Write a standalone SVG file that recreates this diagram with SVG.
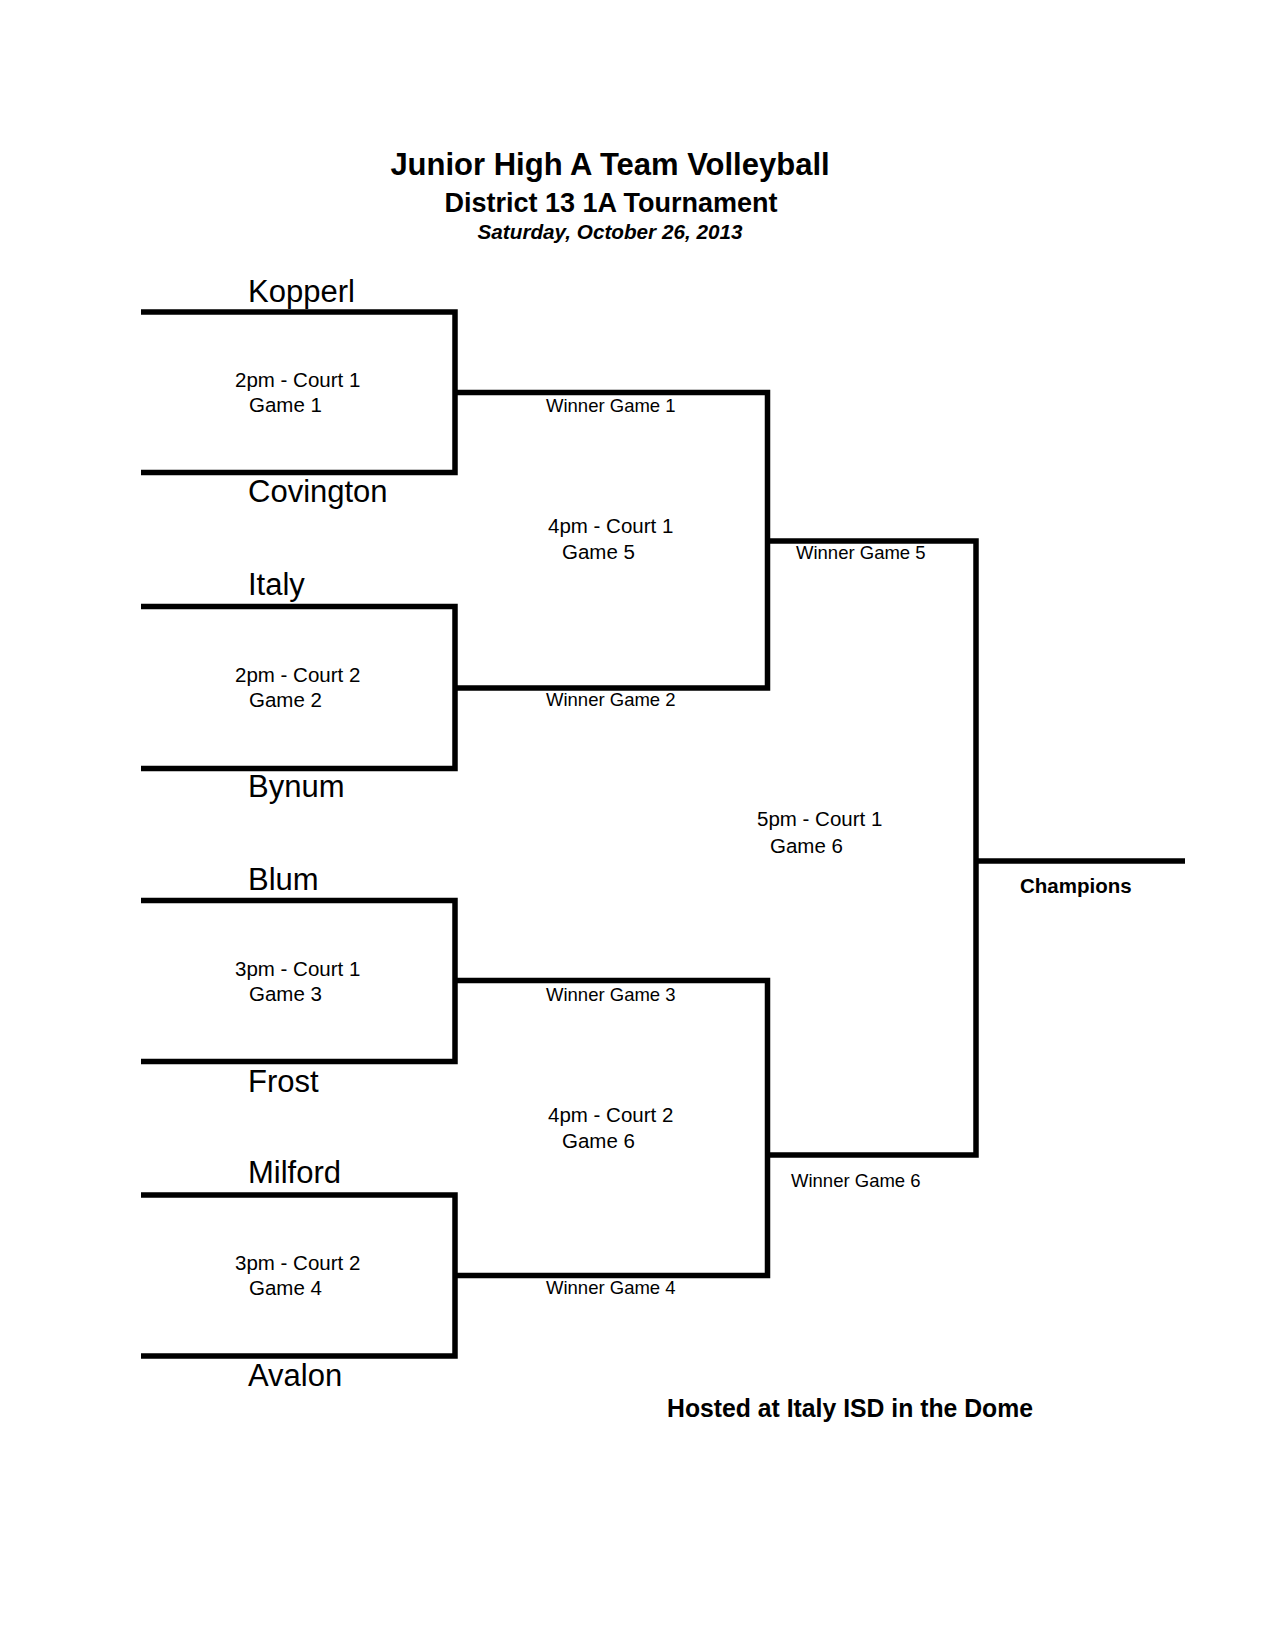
<svg xmlns="http://www.w3.org/2000/svg" width="1275" height="1650" viewBox="0 0 1275 1650">
<style>
text{font-family:"Liberation Sans",Arial,sans-serif;fill:#000}
.title{font-weight:bold;text-anchor:middle}
.team{font-size:31px}
.game{font-size:20.5px}
.win{font-size:18.5px}
.bold{font-weight:bold}
.ln{fill:none;stroke:#000;stroke-width:5.5;stroke-linejoin:miter;stroke-linecap:butt}
</style>
<rect width="1275" height="1650" fill="#fff"/>
<g id="header">
<text class="title" x="610" y="175" font-size="31">Junior High A Team Volleyball</text>
<text class="title" x="611" y="212" font-size="27">District 13 1A Tournament</text>
<text class="title" x="610" y="239" font-size="20.7" font-style="italic">Saturday, October 26, 2013</text>
</g>
<g id="connectors">
<path class="ln" d="M141,312 H455 V472.5 H141"/>
<path class="ln" d="M141,606.5 H455 V768.5 H141"/>
<path class="ln" d="M141,900.5 H455 V1061.5 H141"/>
<path class="ln" d="M141,1195 H455 V1356 H141"/>
<path class="ln" d="M455,392.5 H767.5 V688 H455"/>
<path class="ln" d="M455,980.5 H767.5 V1275.5 H455"/>
<path class="ln" d="M767.5,541 H976 V1155 H767.5"/>
<path class="ln" d="M976,861 H1185"/>
</g>
<g id="teams">
<text class="team" x="248" y="302">Kopperl</text>
<text class="team" x="248" y="502">Covington</text>
<text class="team" x="248" y="595">Italy</text>
<text class="team" x="248" y="797">Bynum</text>
<text class="team" x="248" y="890">Blum</text>
<text class="team" x="248" y="1092">Frost</text>
<text class="team" x="248" y="1183">Milford</text>
<text class="team" x="248" y="1386">Avalon</text>
</g>
<g id="game1"><text class="game" x="235" y="387">2pm - Court 1</text><text class="game" x="249" y="412">Game 1</text></g>
<g id="game2"><text class="game" x="235" y="681.5">2pm - Court 2</text><text class="game" x="249" y="706.5">Game 2</text></g>
<g id="game3"><text class="game" x="235" y="975.5">3pm - Court 1</text><text class="game" x="249" y="1000.5">Game 3</text></g>
<g id="game4"><text class="game" x="235" y="1270">3pm - Court 2</text><text class="game" x="249" y="1295">Game 4</text></g>
<g id="winners-r1">
<text class="win" x="546" y="412">Winner Game 1</text>
<text class="win" x="546" y="706">Winner Game 2</text>
<text class="win" x="546" y="1000.5">Winner Game 3</text>
<text class="win" x="546" y="1294">Winner Game 4</text>
</g>
<g id="game5"><text class="game" x="548" y="533">4pm - Court 1</text><text class="game" x="562" y="559">Game 5</text></g>
<g id="game6a"><text class="game" x="548" y="1121.5">4pm - Court 2</text><text class="game" x="562" y="1148">Game 6</text></g>
<g id="winners-r2">
<text class="win" x="796" y="559">Winner Game 5</text>
<text class="win" x="791" y="1187">Winner Game 6</text>
</g>
<g id="final"><text class="game" x="757" y="826">5pm - Court 1</text><text class="game" x="770" y="853">Game 6</text></g>
<g id="champions"><text class="game bold" x="1020" y="893">Champions</text></g>
<g id="footer"><text class="bold" x="667" y="1417" font-size="25" textLength="366" lengthAdjust="spacingAndGlyphs">Hosted at Italy ISD in the Dome</text></g>
</svg>
